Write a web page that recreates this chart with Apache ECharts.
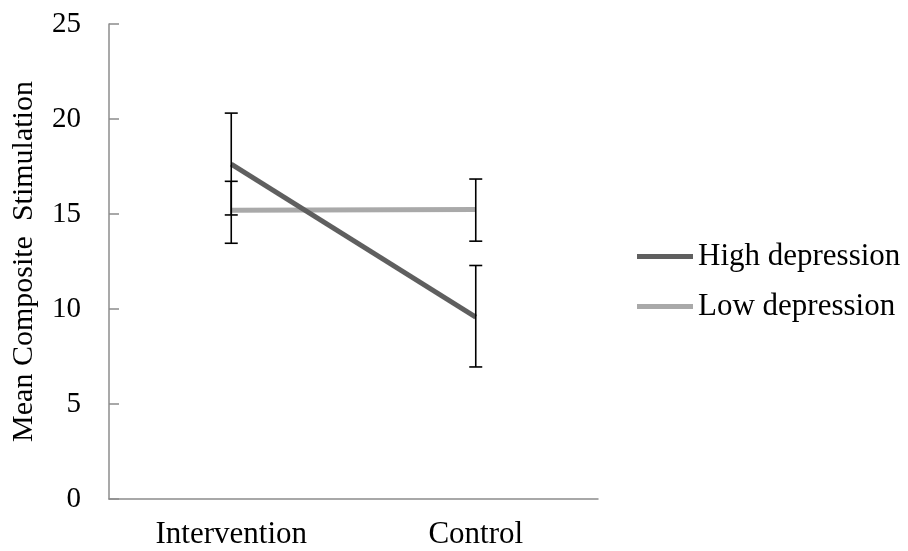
<!DOCTYPE html>
<html><head><meta charset="utf-8">
<script src="https://cdn.jsdelivr.net/npm/echarts@6/dist/echarts.min.js"></script>
<style>html,body{margin:0;padding:0;background:#fff}#c{width:908px;height:551px}</style>
</head><body><div id="c"></div>
<script>
const categories = ['Intervention', 'Control'];
const seriesNames = ['High depression', 'Low depression'];
const highMean = [17.63, 9.57];
const highUpper = [20.31, 12.29];
const highLower = [14.95, 6.95];
const lowMean = [15.2, 15.24];
const lowUpper = [16.72, 16.84];
const lowLower = [13.46, 13.57];
const yTicks = [0, 5, 10, 15, 20, 25];
const yTitle = 'Mean Composite  Stimulation';

const FONT = '"Liberation Serif", "Times New Roman", serif';
const chart = echarts.init(document.getElementById('c'), null, {renderer: 'canvas'});

function errData(lower, upper) {
  return categories.map((c, i) => [i, lower[i], upper[i]]);
}
function renderErr(params, api) {
  const x = api.value(0), lo = api.value(1), hi = api.value(2);
  const pLo = api.coord([x, lo]), pHi = api.coord([x, hi]);
  const w = 6.5;
  const style = {stroke: '#000', lineWidth: 1.6, fill: null};
  return {type: 'group', children: [
    {type: 'line', shape: {x1: pLo[0], y1: pLo[1], x2: pHi[0], y2: pHi[1]}, style: style},
    {type: 'line', shape: {x1: pLo[0] - w, y1: pLo[1], x2: pLo[0] + w, y2: pLo[1]}, style: style},
    {type: 'line', shape: {x1: pHi[0] - w, y1: pHi[1], x2: pHi[0] + w, y2: pHi[1]}, style: style}
  ]};
}

chart.setOption({
  animation: false,
  backgroundColor: '#fff',
  grid: {left: 109, top: 24, width: 489, height: 475, containLabel: false, outerBoundsMode: 'none'},
  legend: {
    data: seriesNames.map(n => ({name: n, icon: 'rect'})),
    orient: 'vertical',
    left: 637, top: 241, padding: 0,
    itemWidth: 56, itemHeight: 5, itemGap: 19,
    textStyle: {fontFamily: FONT, fontSize: 31, color: '#000'}
  },
  xAxis: {
    type: 'category',
    data: categories,
    boundaryGap: true,
    axisLine: {lineStyle: {color: '#8c8c8c', width: 1.5}},
    axisTick: {inside: true, length: 10, lineStyle: {color: '#8c8c8c', width: 1.5}},
    axisLabel: {fontFamily: FONT, fontSize: 31, color: '#000', margin: 20},
    splitLine: {show: false}
  },
  yAxis: {
    type: 'value',
    min: yTicks[0], max: yTicks[yTicks.length - 1], interval: yTicks[1] - yTicks[0],
    name: yTitle,
    nameLocation: 'middle',
    nameGap: 70,
    nameTextStyle: {fontFamily: FONT, fontSize: 30, color: '#000'},
    axisLine: {show: true, lineStyle: {color: '#8c8c8c', width: 1.5}},
    axisTick: {show: true, inside: true, length: 10, lineStyle: {color: '#8c8c8c', width: 1.5}},
    axisLabel: {fontFamily: FONT, fontSize: 29, color: '#000', margin: 28},
    splitLine: {show: false}
  },
  series: [
    {
      name: seriesNames[0], type: 'line', data: highMean,
      symbol: 'none', lineStyle: {color: '#5f5f5f', width: 5},
      itemStyle: {color: '#5f5f5f'}, z: 3
    },
    {
      name: seriesNames[1], type: 'line', data: lowMean,
      symbol: 'none', lineStyle: {color: '#a9a9a9', width: 5},
      itemStyle: {color: '#a9a9a9'}, z: 2
    },
    {
      name: 'err-high', type: 'custom', data: errData(highLower, highUpper),
      encode: {x: 0, y: [1, 2]}, renderItem: renderErr, z: 5, silent: true
    },
    {
      name: 'err-low', type: 'custom', data: errData(lowLower, lowUpper),
      encode: {x: 0, y: [1, 2]}, renderItem: renderErr, z: 5, silent: true
    }
  ]
});
</script>
</body></html>
